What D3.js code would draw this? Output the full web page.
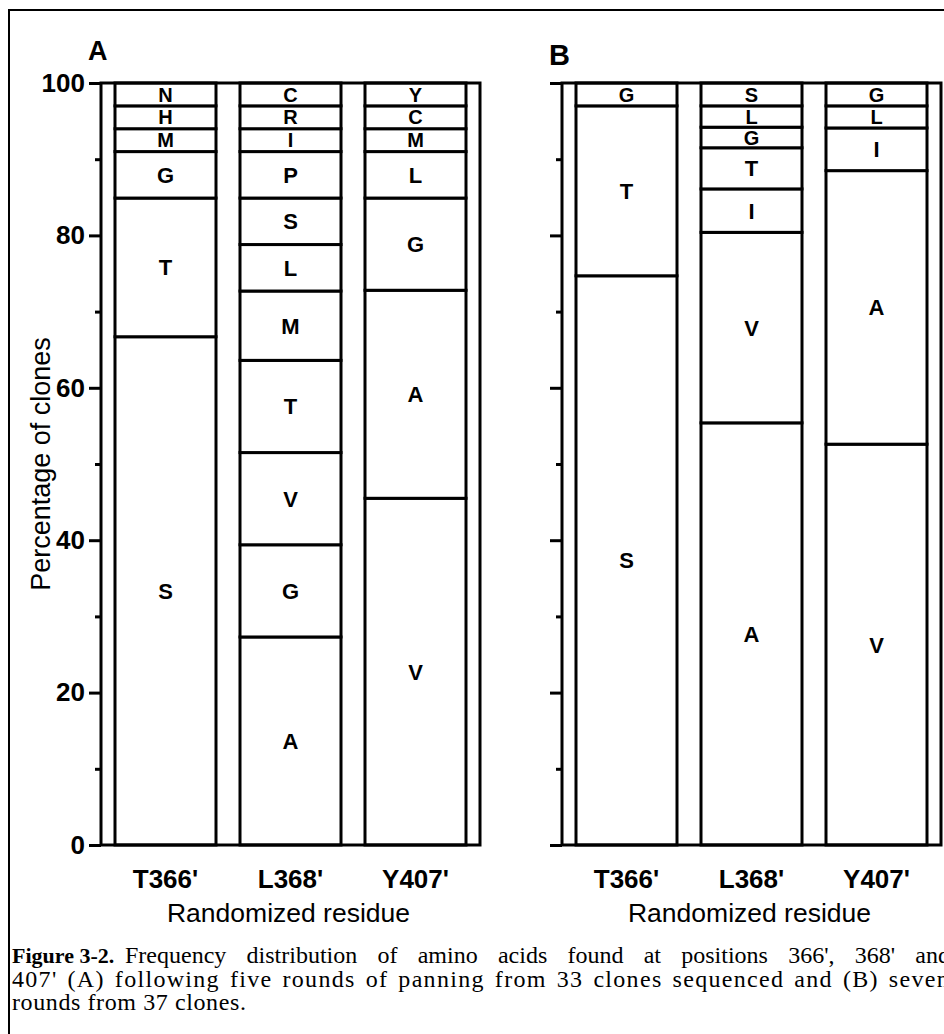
<!DOCTYPE html>
<html>
<head>
<meta charset="utf-8">
<script src="https://d3js.org/d3.v7.min.js"></script>
<style>
  body { margin: 0; background: #fff; }
  svg { display: block; }
  .sans { font-family: "Liberation Sans", Arial, Helvetica, sans-serif; }
  .serif { font-family: "Liberation Serif", "Times New Roman", serif; }
</style>
</head>
<body>
<svg id="svgCanvas" width="944" height="1034"></svg>
<script>
// randomized residues (x categories)
var residues = ["T366'", "L368'", "Y407'"];

// y ticks
var majorTicks = [0, 20, 40, 60, 80, 100];
var minorTicks = [10, 30, 50, 70, 90];

// Panel A: five rounds, 33 clones. amino acids bottom -> top, percentage of clones
var aminoA = [
    ["S", "T", "G", "M", "H", "N"],
    ["A", "G", "V", "T", "M", "L", "S", "P", "I", "R", "C"],
    ["V", "A", "G", "L", "M", "C", "Y"]
];
var percentA = [
    [66.7, 18.2, 6.1, 3.0, 3.0, 3.0],
    [27.3, 12.1, 12.1, 12.1, 9.1, 6.1, 6.1, 6.1, 3.0, 3.0, 3.0],
    [45.5, 27.3, 12.1, 6.1, 3.0, 3.0, 3.0]
];

// Panel B: seven rounds, 37 clones
var aminoB = [
    ["S", "T", "G"],
    ["A", "V", "I", "T", "G", "L", "S"],
    ["V", "A", "I", "L", "G"]
];
var percentB = [
    [74.7, 22.3, 3.0],
    [55.4, 25.0, 5.7, 5.4, 2.7, 2.8, 3.0],
    [52.6, 35.9, 5.6, 2.9, 3.0]
];

var captionTitle = "Figure 3-2.";
var captionLines = [
    "Frequency distribution of amino acids found at positions 366', 368' and",
    "407' (A) following five rounds of panning from 33 clones sequenced and (B) seven",
    "rounds from 37 clones."
];

var canvas = d3.select("#svgCanvas");

// outer figure border
canvas.append("rect")
    .attr("x", 9).attr("y", 10)
    .attr("width", 1000).attr("height", 1100)
    .attr("fill", "none").attr("stroke", "black").attr("stroke-width", 2);

var frameWidth = 379;
var y = d3.scaleLinear().domain([0, 100]).range([845, 83]);

function drawPanel(x0, letter, letterSize, letterY, amino, percent, showLabels)
{
    var g = canvas.append("g");

    var x = d3.scaleBand()
        .domain(residues)
        .range([x0, x0 + frameWidth])
        .paddingInner(0.192)
        .paddingOuter(0.112);

    // panel letter
    g.append("text")
        .attr("class", "sans")
        .attr("x", x0 - 13)
        .attr("y", letterY)
        .attr("font-size", letterSize)
        .attr("font-weight", "bold")
        .text(letter);

    // stacked segments
    for (var i = 0; i < residues.length; i++)
    {
        var base = 0;
        for (var j = 0; j < percent[i].length; j++)
        {
            var top = base + percent[i][j];
            if (j == percent[i].length - 1) top = 100;
            g.append("rect")
                .attr("x", x(residues[i]))
                .attr("y", y(top))
                .attr("width", x.bandwidth())
                .attr("height", y(base) - y(top))
                .attr("fill", "white")
                .attr("stroke", "black")
                .attr("stroke-width", 3);

            g.append("text")
                .attr("class", "sans")
                .attr("x", x(residues[i]) + x.bandwidth() / 2)
                .attr("y", y((base + top) / 2))
                .attr("dy", "0.36em")
                .attr("text-anchor", "middle")
                .attr("font-size", percent[i][j] < 5 ? 20 : 22)
                .attr("font-weight", "bold")
                .text(amino[i][j]);
            base = top;
        }
    }

    // frame
    g.append("rect")
        .attr("x", x0).attr("y", y(100))
        .attr("width", frameWidth).attr("height", y(0) - y(100))
        .attr("fill", "none").attr("stroke", "black").attr("stroke-width", 3);

    // y axis ticks
    var major = d3.axisLeft(y).tickValues(majorTicks).tickSize(12).tickPadding(4);
    if (!showLabels) major.tickFormat("");
    var ax = g.append("g").attr("transform", "translate(" + x0 + ",0)").call(major);
    ax.select(".domain").remove();
    ax.selectAll("line").attr("stroke-width", 3);
    ax.selectAll("text")
        .attr("class", "sans")
        .attr("font-size", 26)
        .attr("font-weight", "bold")
        .attr("fill", "black");

    var minor = d3.axisLeft(y).tickValues(minorTicks).tickSize(6).tickFormat("");
    var ax2 = g.append("g").attr("transform", "translate(" + x0 + ",0)").call(minor);
    ax2.select(".domain").remove();
    ax2.selectAll("line").attr("stroke-width", 3);

    // x category labels
    for (i = 0; i < residues.length; i++)
    {
        g.append("text")
            .attr("class", "sans")
            .attr("x", x(residues[i]) + x.bandwidth() / 2)
            .attr("y", 888)
            .attr("text-anchor", "middle")
            .attr("font-size", 26)
            .attr("font-weight", "bold")
            .text(residues[i]);
    }

    g.append("text")
        .attr("class", "sans")
        .attr("x", x0 + frameWidth / 2 - 2)
        .attr("y", 922)
        .attr("text-anchor", "middle")
        .attr("font-size", 26.5)
        .text("Randomized residue");
}

drawPanel(101, "A", 27, 60, aminoA, percentA, true);
drawPanel(562, "B", 29, 65, aminoB, percentB, false);

// y axis title
canvas.append("text")
    .attr("class", "sans")
    .attr("transform", "translate(50," + ((y(0) + y(100)) / 2) + ") rotate(-90)")
    .attr("text-anchor", "middle")
    .attr("font-size", 27)
    .text("Percentage of clones");

// caption (first two lines justified out to the column edge, which runs off the page)
var baselines = [963, 987, 1010];
var lineStart = [125, 12, 12];
var letterSp = [0, 1.3, 0.6];
var rightEdge = 950;

canvas.append("text")
    .attr("class", "serif")
    .attr("x", 12)
    .attr("y", baselines[0])
    .attr("font-size", 22)
    .attr("font-weight", "bold")
    .text(captionTitle);

for (var k = 0; k < captionLines.length; k++)
{
    var t = canvas.append("text")
        .attr("class", "serif")
        .attr("x", lineStart[k])
        .attr("y", baselines[k])
        .attr("font-size", 24)
        .attr("letter-spacing", letterSp[k] + "px")
        .text(captionLines[k]);

    if (k < 2)
    {
        var w = t.node().getComputedTextLength();
        var gaps = captionLines[k].split(" ").length - 1;
        t.attr("word-spacing", ((rightEdge - lineStart[k] - w) / gaps) + "px");
    }
}
</script>
</body>
</html>
